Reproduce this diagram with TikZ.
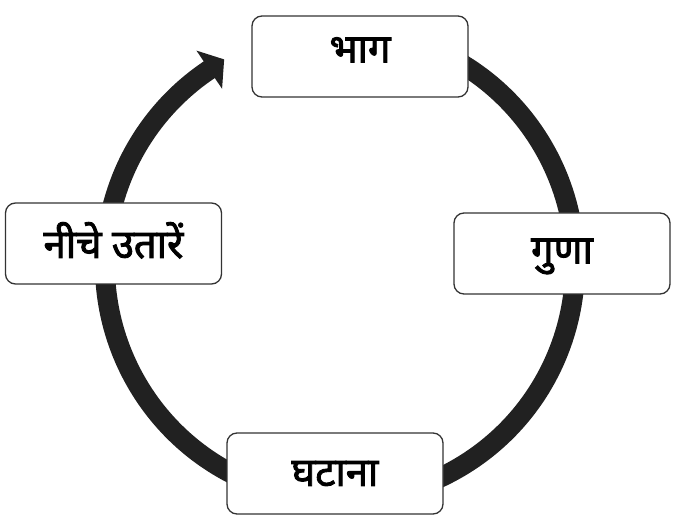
\documentclass[tikz,border=0pt]{standalone}
\usepackage{fontspec}
\newfontfamily\deva[Script=Devanagari, FakeBold=2.2]{Noto Sans}
\usetikzlibrary{calc}
\begin{document}
\begin{tikzpicture}[x=1pt,y=1pt,
  box/.style={draw=black!80, line width=1.3pt, rounded corners=10pt, fill=white,
    minimum width=216pt, minimum height=81pt, inner sep=0pt, text height=22pt, text depth=-2pt,
    font=\deva\fontsize{40}{44}\selectfont},
  ring/.style={line width=20pt, draw=black!87},
  head/.style={fill=black!87}]
\useasboundingbox (0,0) rectangle (673,523);
\coordinate (c) at (340,258);
\draw[ring] ($(c)+(70:235)$) arc[start angle=70, end angle=-236.8, radius=235];
\fill[head] ($(c)+(123.8:258)$) -- ($(c)+(119.4:236)$) -- ($(c)+(123.8:212)$) -- cycle;
\node[box] (top) at (360,466.5) {\raisebox{5pt}{भाग}};
\node[box] (right) at (562,269.5) {\raisebox{1pt}{गुणा}};
\node[box] (bottom) at (335,49.5) {\raisebox{-1.5pt}{घटाना}};
\node[box] (left) at (113.5,279.5) {\raisebox{-3.5pt}{नीचे उतारें}};
\end{tikzpicture}
\end{document}
